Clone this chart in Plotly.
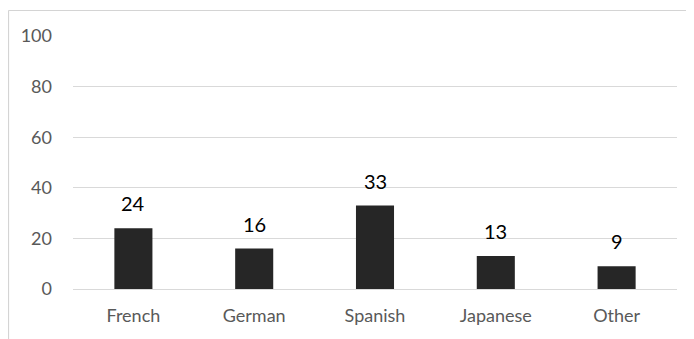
import plotly.graph_objects as go

categories = ["French", "German", "Spanish", "Japanese", "Other"]
values = [24, 16, 33, 13, 9]
y_ticks = [0, 20, 40, 60, 80, 100]

FONT = "Lato, Open Sans, sans-serif"

fig = go.Figure(go.Bar(
    x=categories, y=values,
    marker=dict(color="#262626", line=dict(width=0)),
    cliponaxis=False,
))

for c, v in zip(categories, values):
    fig.add_annotation(x=c, y=v, text=str(v), showarrow=False,
                       xref="x", yref="y", yanchor="bottom", yshift=11,
                       font=dict(family=FONT, size=20, color="#000000"))

# page has an 8px body margin; figure sized to fit inside the 694x339 window
W, H = 686, 331
L, R, T, B = 65, 17, 28, 50
pw, ph = W - L - R, H - T - B

bx = (0.5 - L) / pw           # left border, in paper units
by = 1 + (T - 2.5) / ph       # top border, in paper units

fig.update_layout(
    width=W, height=H,
    margin=dict(l=L, r=R, t=T, b=B, pad=0),
    paper_bgcolor="white", plot_bgcolor="white",
    bargap=0.685,
    showlegend=False,
    font=dict(family=FONT, size=18, color="#595959"),
    xaxis=dict(showgrid=False, showline=False, ticks="", ticklabelstandoff=14,
               tickfont=dict(family=FONT, size=18, color="#595959")),
    yaxis=dict(range=[0, 100], tickvals=y_ticks, showgrid=True, gridcolor="#d9d9d9",
               gridwidth=1, zeroline=True, zerolinecolor="#d9d9d9", zerolinewidth=1,
               showline=False, ticks="", ticklabelstandoff=20,
               tickfont=dict(family=FONT, size=18, color="#595959")),
    shapes=[
        dict(type="line", xref="paper", yref="paper", x0=bx, x1=1.3, y0=by, y1=by,
             line=dict(color="#d4d4d4", width=1.2)),
        dict(type="line", xref="paper", yref="paper", x0=bx, x1=bx, y0=-0.5, y1=by,
             line=dict(color="#d4d4d4", width=1.2)),
    ],
)

fig.write_html("out.html")
